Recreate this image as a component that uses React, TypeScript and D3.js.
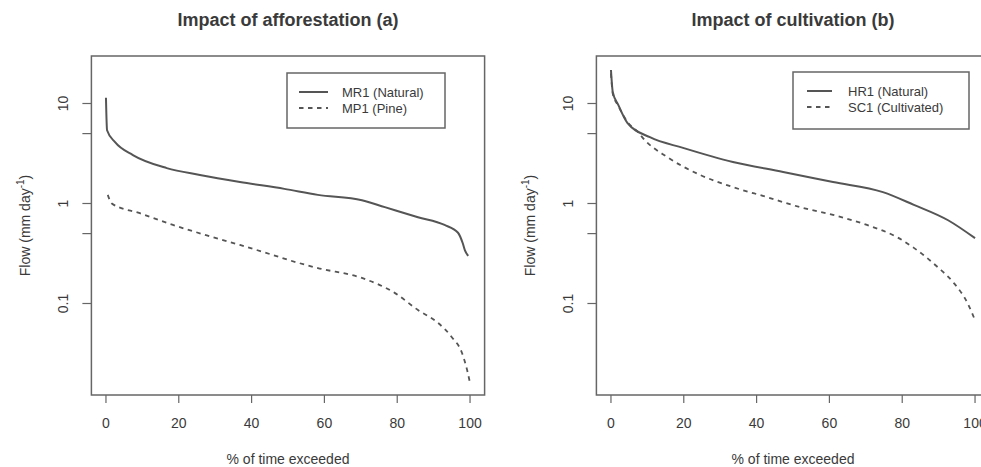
import React from "react";
import * as d3 from "d3";

// ---------- data ----------
const mr1Pct = [0, 0.3, 2.5, 7.4, 16.7, 25.8, 36.8, 49, 58.2, 70.3, 76.6, 85.7, 93, 96.7, 98, 98.6, 99.5];
const mr1Flow = [11.4, 5.4, 4.1, 3.05, 2.26, 1.93, 1.64, 1.4, 1.22, 1.08, 0.92, 0.73, 0.61, 0.51, 0.4, 0.34, 0.3];

const mp1Pct = [0.5, 1.6, 9.3, 18.4, 27.7, 36.8, 45.9, 50.5, 58.2, 70.3, 79.4, 85.7, 91.2, 95, 97.8, 99.2, 100];
const mp1Flow = [1.22, 1.0, 0.8, 0.61, 0.48, 0.385, 0.305, 0.27, 0.226, 0.18, 0.127, 0.086, 0.064, 0.046, 0.032, 0.0216, 0.016];

const hr1Pct = [0, 0.5, 2, 4.5, 10.7, 19.8, 33.5, 47.3, 61, 74.7, 83.2, 92.6, 100];
const hr1Flow = [21.6, 13.0, 9.7, 6.4, 4.6, 3.6, 2.6, 2.07, 1.64, 1.3, 0.97, 0.68, 0.45];

const sc1Pct = [0, 0.5, 2, 4.7, 7.4, 8.8, 15.4, 24.5, 33.5, 42.8, 51.9, 61, 70.3, 78.6, 83.2, 89.8, 94.2, 98, 100];
const sc1Flow = [20, 12.5, 9.5, 6.4, 5.2, 4.5, 2.92, 1.93, 1.46, 1.16, 0.92, 0.77, 0.61, 0.46, 0.36, 0.23, 0.16, 0.1, 0.068];

const xTicks = [0, 20, 40, 60, 80, 100];
const yTicks = [10, 5, 1, 0.5, 0.1];
const yTickLabels = ["10", "", "1", "", "0.1"];

const titles = ["Impact of afforestation (a)", "Impact of cultivation (b)"];
const legendA = ["MR1 (Natural)", "MP1 (Pine)"];
const legendB = ["HR1 (Natural)", "SC1 (Cultivated)"];
const xLabel = "% of time exceeded";

// ---------- styling ----------
const FONT = "'Liberation Sans', Arial, Helvetica, sans-serif";
const TEXT = "#3a3a3a";
const LINE = "#555";
const BOX = "#666";
const DASH = "4.5 4.5";

const TOP = 56;
const BOTTOM = 395;

const yScale = d3
  .scaleLog()
  .domain([Math.pow(10, -1.915), Math.pow(10, 1.475)])
  .range([BOTTOM, TOP]);

type Series = { pct: number[]; flow: number[]; dashed: boolean };

type PanelProps = {
  left: number;
  right: number;
  title: string;
  series: Series[];
  legend: string[];
  legendBox: { x: number; y: number; w: number; h: number; lx0: number; lx1: number; tx: number };
};

function Panel({ left, right, title, series, legend, legendBox }: PanelProps) {
  const x = d3.scaleLinear().domain([-4, 104]).range([left, right]);
  const line = (s: Series) =>
    d3
      .line<number>()
      .x((_, i) => x(s.pct[i]))
      .y((v) => yScale(v))
      .curve(d3.curveMonotoneX)(s.flow) || "";
  const cx = (left + right) / 2;
  const cy = (TOP + BOTTOM) / 2;
  const rowY = [legendBox.y + 19, legendBox.y + 35];
  return (
    <g>
      <text x={cx} y={26} textAnchor="middle" fontFamily={FONT} fontWeight="bold" fontSize={18} fill={TEXT}>
        {title}
      </text>
      {series.map((s, i) => (
        <path
          key={i}
          d={line(s)}
          fill="none"
          stroke={LINE}
          strokeWidth={s.dashed ? 1.8 : 2}
          strokeDasharray={s.dashed ? DASH : undefined}
        />
      ))}
      <rect x={left} y={TOP} width={right - left} height={BOTTOM - TOP} fill="none" stroke={BOX} strokeWidth={1.5} />
      {/* x axis */}
      {xTicks.map((t) => (
        <g key={t}>
          <line x1={x(t)} x2={x(t)} y1={BOTTOM} y2={BOTTOM + 8} stroke={BOX} strokeWidth={1.2} />
          <text x={x(t)} y={428} textAnchor="middle" fontFamily={FONT} fontSize={14} fill={TEXT}>
            {t}
          </text>
        </g>
      ))}
      <text x={cx} y={464} textAnchor="middle" fontFamily={FONT} fontSize={14} fill={TEXT}>
        {xLabel}
      </text>
      {/* y axis */}
      {yTicks.map((t, i) => (
        <g key={t}>
          <line x1={left - 9} x2={left} y1={yScale(t)} y2={yScale(t)} stroke={BOX} strokeWidth={1.2} />
          {yTickLabels[i] && (
            <text
              transform={`translate(${left - 23},${yScale(t)}) rotate(-90)`}
              textAnchor="middle"
              fontFamily={FONT}
              fontSize={14}
              fill={TEXT}
            >
              {yTickLabels[i]}
            </text>
          )}
        </g>
      ))}
      <text
        transform={`translate(${left - 61},${cy}) rotate(-90)`}
        textAnchor="middle"
        fontFamily={FONT}
        fontSize={14}
        fill={TEXT}
      >
        Flow (mm day
        <tspan fontSize={10} dy={-6}>
          -1
        </tspan>
        <tspan dy={6}>)</tspan>
      </text>
      {/* legend */}
      <rect
        x={legendBox.x}
        y={legendBox.y}
        width={legendBox.w}
        height={legendBox.h}
        fill="white"
        stroke={BOX}
        strokeWidth={1.5}
      />
      {legend.map((lab, i) => (
        <g key={lab}>
          <line
            x1={legendBox.lx0}
            x2={legendBox.lx1}
            y1={rowY[i]}
            y2={rowY[i]}
            stroke={LINE}
            strokeWidth={i === 1 ? 1.8 : 2}
            strokeDasharray={i === 1 ? DASH : undefined}
          />
          <text x={legendBox.tx} y={rowY[i] + 5} fontFamily={FONT} fontSize={13} fill={TEXT}>
            {lab}
          </text>
        </g>
      ))}
    </g>
  );
}

export default function App() {
  return (
    <svg
      width={981}
      height={467}
      style={{ position: "absolute", left: 0, top: 0, background: "white", overflow: "hidden" }}
    >
      <rect x={0} y={0} width={981} height={467} fill="white" />
      <Panel
        left={91.4}
        right={484.6}
        title={titles[0]}
        series={[
          { pct: mr1Pct, flow: mr1Flow, dashed: false },
          { pct: mp1Pct, flow: mp1Flow, dashed: true },
        ]}
        legend={legendA}
        legendBox={{ x: 287, y: 73, w: 158, h: 55, lx0: 299, lx1: 328, tx: 342 }}
      />
      <Panel
        left={596.4}
        right={989.6}
        title={titles[1]}
        series={[
          { pct: hr1Pct, flow: hr1Flow, dashed: false },
          { pct: sc1Pct, flow: sc1Flow, dashed: true },
        ]}
        legend={legendB}
        legendBox={{ x: 793, y: 72, w: 176, h: 57, lx0: 807, lx1: 832, tx: 848 }}
      />
    </svg>
  );
}
